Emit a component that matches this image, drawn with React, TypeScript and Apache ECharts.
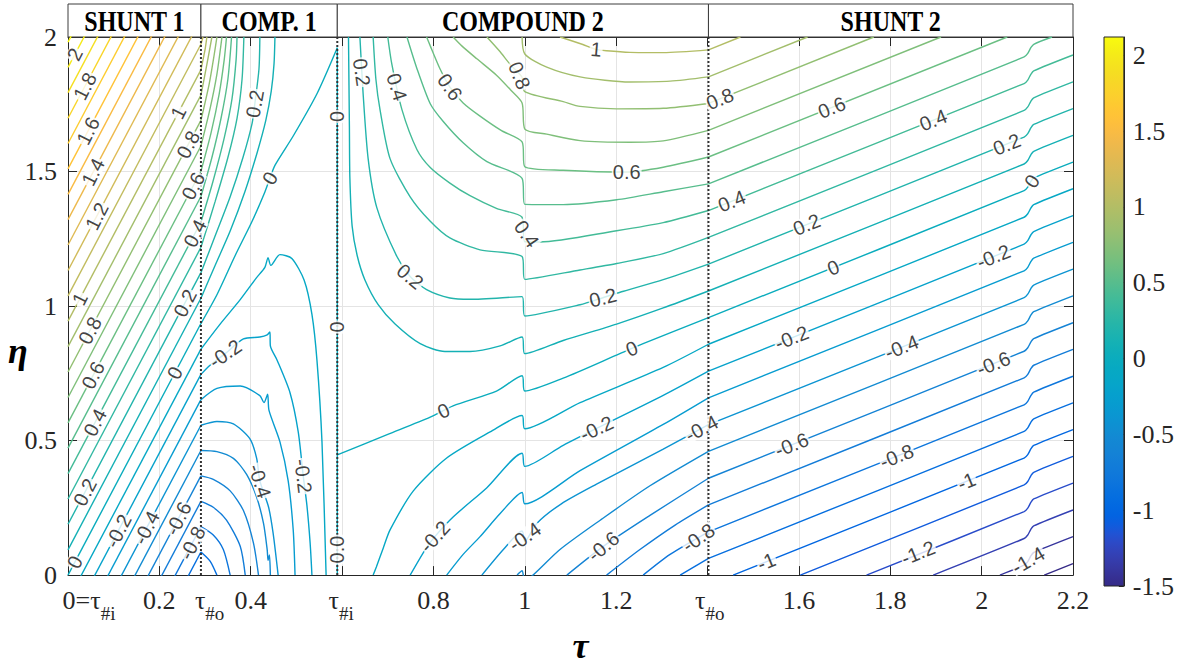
import React, { useEffect, useRef } from 'react';
import * as echarts from 'echarts';

// ---------- colour scale (MATLAB parula, 64 entries) ----------
const C_MIN = -1.5;
const C_MAX = 2.12;
const PARULA: number[][] = [
  [0.2081, 0.1663, 0.5292], [0.2116, 0.1898, 0.5777], [0.2123, 0.2138, 0.627], [0.2081, 0.2386, 0.6771],
  [0.1959, 0.2645, 0.7279], [0.1707, 0.2919, 0.7792], [0.1253, 0.3242, 0.8303], [0.0591, 0.3598, 0.8683],
  [0.0117, 0.3875, 0.882], [0.006, 0.4086, 0.8828], [0.0165, 0.4266, 0.8786], [0.0329, 0.443, 0.872],
  [0.0498, 0.4586, 0.8641], [0.0629, 0.4737, 0.8554], [0.0723, 0.4887, 0.8467], [0.0779, 0.504, 0.8384],
  [0.0793, 0.52, 0.8312], [0.0749, 0.5375, 0.8263], [0.0641, 0.557, 0.824], [0.0488, 0.5772, 0.8228],
  [0.0343, 0.5966, 0.8199], [0.0265, 0.6137, 0.8135], [0.0239, 0.6287, 0.8038], [0.0231, 0.6418, 0.7913],
  [0.0228, 0.6535, 0.7768], [0.0267, 0.6642, 0.7607], [0.0384, 0.6743, 0.7436], [0.059, 0.6838, 0.7254],
  [0.0843, 0.6928, 0.7062], [0.1133, 0.7015, 0.6859], [0.1453, 0.7098, 0.6646], [0.1801, 0.7177, 0.6424],
  [0.2178, 0.725, 0.6193], [0.2586, 0.7317, 0.5954], [0.3022, 0.7376, 0.5712], [0.3482, 0.7424, 0.5473],
  [0.3953, 0.7459, 0.5244], [0.442, 0.7481, 0.5033], [0.4871, 0.7491, 0.484], [0.53, 0.7491, 0.4661],
  [0.5709, 0.7485, 0.4494], [0.6099, 0.7473, 0.4337], [0.6473, 0.7456, 0.4188], [0.6834, 0.7435, 0.4044],
  [0.7184, 0.7411, 0.3905], [0.7525, 0.7384, 0.3768], [0.7858, 0.7356, 0.3633], [0.8185, 0.7327, 0.3498],
  [0.8507, 0.7299, 0.336], [0.8824, 0.7274, 0.3217], [0.9139, 0.7258, 0.3063], [0.945, 0.7261, 0.2886],
  [0.9739, 0.7314, 0.2666], [0.9938, 0.7455, 0.2403], [0.999, 0.7653, 0.2164], [0.9955, 0.7861, 0.1967],
  [0.988, 0.8066, 0.1794], [0.9789, 0.8271, 0.1633], [0.9697, 0.8481, 0.1475], [0.9626, 0.8705, 0.1309],
  [0.9589, 0.8949, 0.1132], [0.9598, 0.9218, 0.0948], [0.9661, 0.9514, 0.0755], [0.9763, 0.9831, 0.0538],
];
const colorbarTicks = [-1.5, -1, -0.5, 0, 0.5, 1, 1.5, 2];

// ---------- region boundaries ----------
const boundaryTaus = [0.291, 0.5895, 1.402];
const regionNames = ['SHUNT 1', 'COMP. 1', 'COMPOUND 2', 'SHUNT 2'];
const regionStarts = [0, 0.291, 0.5895, 1.402];
const regionEnds = [0.291, 0.5895, 1.402, 2.2];

// ---------- x tick labels ----------
const xLabelValues = [0.046, 0.2, 0.31, 0.4, 0.598, 0.8, 1, 1.2, 1.405, 1.6, 1.8, 2, 2.2];
const xLabelTexts = [
  '{n|0=τ}{s|#i}', '{n|0.2}', '{n|τ}{s|#o}', '{n|0.4}', '{n|τ}{s|#i}', '{n|0.8}', '{n|1}',
  '{n|1.2}', '{n|τ}{s|#o}', '{n|1.6}', '{n|1.8}', '{n|2}', '{n|2.2}',
];

type Line = [number, number[][]];

// ---------- contour lines: [level, [[tau, eta], ...]] ----------
const shunt1Lines: Line[] = [
  [2.1, [[0, 1.981], [0.291, 2.916]]],
  [2.0, [[0, 1.887], [0.291, 2.822]]],
  [1.9, [[0, 1.793], [0.291, 2.728]]],
  [1.8, [[0, 1.698], [0.291, 2.633]]],
  [1.7, [[0, 1.604], [0.291, 2.539]]],
  [1.6, [[0, 1.51], [0.291, 2.444]]],
  [1.5, [[0, 1.415], [0.291, 2.35]]],
  [1.4, [[0, 1.321], [0.291, 2.256]]],
  [1.3, [[0, 1.227], [0.291, 2.161]]],
  [1.2, [[0, 1.132], [0.291, 2.067]]],
  [1.1, [[0, 1.038], [0.291, 1.973]]],
  [1.0, [[0, 0.944], [0.291, 1.878]]],
  [0.9, [[0, 0.849], [0.291, 1.784]]],
  [0.8, [[0, 0.755], [0.291, 1.69]]],
  [0.7, [[0, 0.66], [0.291, 1.595]]],
  [0.6, [[0, 0.566], [0.291, 1.501]]],
  [0.5, [[0, 0.472], [0.291, 1.407]]],
  [0.4, [[0, 0.377], [0.291, 1.312]]],
  [0.3, [[0, 0.283], [0.291, 1.218]]],
  [0.2, [[0, 0.189], [0.291, 1.124]]],
  [0.1, [[0, 0.094], [0.291, 1.029]]],
  [0, [[0, 0], [0.291, 0.935]]],
  [-0.1, [[0, -0.094], [0.291, 0.84]]],
  [-0.2, [[0, -0.189], [0.291, 0.746]]],
  [-0.3, [[0, -0.283], [0.291, 0.652]]],
  [-0.4, [[0, -0.377], [0.291, 0.557]]],
  [-0.5, [[0, -0.472], [0.291, 0.463]]],
  [-0.6, [[0, -0.566], [0.291, 0.369]]],
  [-0.7, [[0, -0.66], [0.291, 0.274]]],
  [-0.8, [[0, -0.755], [0.291, 0.18]]],
  [-0.9, [[0, -0.849], [0.291, 0.086]]],
];

const comp1Lines: Line[] = [
  [1.1, [[0.291, 1.973], [0.2955, 2.0]]],
  [1.0, [[0.291, 1.878], [0.3, 1.953], [0.304, 2.0]]],
  [0.9, [[0.291, 1.784], [0.304, 1.898], [0.315, 2.0]]],
  [0.8, [[0.291, 1.69], [0.309, 1.825], [0.32, 1.934], [0.326, 2.0]]],
  [0.7, [[0.291, 1.595], [0.311, 1.734], [0.326, 1.862], [0.337, 2.0]]],
  [0.6, [[0.291, 1.501], [0.313, 1.643], [0.331, 1.789], [0.342, 1.916], [0.347, 2.0]]],
  [0.5, [[0.291, 1.407], [0.315, 1.552], [0.335, 1.698], [0.35, 1.843], [0.358, 2.0]]],
  [0.4, [[0.291, 1.312], [0.317, 1.461], [0.342, 1.625], [0.359, 1.77], [0.368, 1.916], [0.37, 2.0]]],
  [0.3, [[0.291, 1.218], [0.322, 1.388], [0.35, 1.552], [0.37, 1.698], [0.381, 1.843], [0.385, 2.0]]],
  [0.2, [[0.291, 1.124], [0.322, 1.26], [0.355, 1.406], [0.383, 1.552], [0.403, 1.679], [0.409, 1.752], [0.418, 1.88], [0.42, 2.0]]],
  [0.1, [[0.291, 1.029], [0.322, 1.151], [0.355, 1.279], [0.387, 1.424], [0.414, 1.57], [0.433, 1.69], [0.445, 1.8], [0.451, 1.9], [0.453, 2.0]]],
  [0, [[0.291, 0.935], [0.326, 1.042], [0.366, 1.188], [0.403, 1.315], [0.431, 1.424], [0.442, 1.475], [0.453, 1.523], [0.493, 1.632], [0.545, 1.789], [0.5895, 1.96]]],
  [-0.1, [[0.291, 0.84], [0.333, 0.933], [0.377, 1.024], [0.412, 1.104], [0.431, 1.144], [0.438, 1.18], [0.444, 1.151], [0.464, 1.191], [0.49, 1.177], [0.517, 1.096], [0.534, 0.969], [0.545, 0.798], [0.556, 0.495], [0.565, 0]]],
  [-0.2, [[0.291, 0.746], [0.311, 0.78], [0.344, 0.823], [0.384, 0.878], [0.42, 0.885], [0.436, 0.893], [0.442, 0.904], [0.443, 0.852], [0.458, 0.798], [0.486, 0.678], [0.504, 0.532], [0.515, 0.368], [0.523, 0.259], [0.53, 0.12], [0.534, 0]]],
  [-0.3, [[0.291, 0.652], [0.326, 0.694], [0.377, 0.703], [0.42, 0.667], [0.429, 0.641], [0.437, 0.672], [0.44, 0.612], [0.464, 0.495], [0.482, 0.35], [0.493, 0.168], [0.497, 0]]],
  [-0.4, [[0.291, 0.557], [0.326, 0.571], [0.362, 0.562], [0.398, 0.507], [0.413, 0.434], [0.42, 0.35], [0.439, 0.253], [0.449, 0.156], [0.46, 0]]],
  [-0.5, [[0.291, 0.463], [0.326, 0.459], [0.362, 0.434], [0.391, 0.374], [0.413, 0.289], [0.428, 0.192], [0.436, 0.095], [0.438, 0.055], [0.441, 0.075], [0.443, 0]]],
  [-0.6, [[0.291, 0.369], [0.318, 0.356], [0.355, 0.313], [0.384, 0.24], [0.406, 0.119], [0.417, 0]]],
  [-0.7, [[0.291, 0.274], [0.318, 0.252], [0.347, 0.204], [0.377, 0.107], [0.388, 0]]],
  [-0.8, [[0.291, 0.18], [0.318, 0.149], [0.34, 0.095], [0.355, 0]]],
  [-0.9, [[0.291, 0.086], [0.311, 0.052], [0.326, 0]]],
];

const tauIZeroLines: Line[] = [[0, [[0.5895, 0], [0.5895, 1.96]]]];

const compound2Lines: Line[] = [
  [1.0, [[1.077, 2.0], [1.127, 1.972], [1.156, 1.954], [1.179, 1.949], [1.23, 1.943], [1.303, 1.942], [1.402, 1.952]]],
  [0.9, [[0.994, 2.0], [1.0, 1.937], [1.048, 1.888], [1.121, 1.852], [1.23, 1.833], [1.318, 1.836], [1.402, 1.852]]],
  [0.8, [[0.917, 2.0], [0.946, 1.945], [0.968, 1.898], [0.99, 1.86], [0.994, 1.85], [1.0, 1.797], [1.084, 1.76], [1.121, 1.742], [1.201, 1.733], [1.303, 1.735], [1.402, 1.753]]],
  [0.7, [[0.843, 2.0], [0.862, 1.967], [0.895, 1.919], [0.938, 1.858], [0.968, 1.805], [0.994, 1.755], [1.0, 1.658], [1.048, 1.639], [1.121, 1.615], [1.23, 1.609], [1.303, 1.614], [1.402, 1.653]]],
  [0.6, [[0.785, 2.0], [0.793, 1.967], [0.814, 1.883], [0.836, 1.814], [0.865, 1.755], [0.902, 1.706], [0.949, 1.652], [0.994, 1.61], [1.0, 1.518], [1.084, 1.505], [1.223, 1.498], [1.303, 1.516], [1.402, 1.554]]],
  [0.5, [[0.742, 2.0], [0.763, 1.887], [0.793, 1.752], [0.821, 1.687], [0.865, 1.607], [0.917, 1.537], [0.994, 1.475], [1.0, 1.378], [1.084, 1.377], [1.201, 1.395], [1.303, 1.425], [1.402, 1.454]]],
  [0.4, [[0.7, 2.0], [0.709, 1.898], [0.731, 1.73], [0.764, 1.581], [0.793, 1.515], [0.836, 1.457], [0.88, 1.41], [0.939, 1.362], [0.994, 1.33], [1.0, 1.239], [1.033, 1.238], [1.201, 1.28], [1.303, 1.31], [1.402, 1.355]]],
  [0.3, [[0.668, 2.0], [0.674, 1.843], [0.683, 1.73], [0.705, 1.548], [0.749, 1.406], [0.793, 1.315], [0.836, 1.253], [0.902, 1.209], [0.994, 1.184], [1.0, 1.099], [1.121, 1.134], [1.201, 1.158], [1.303, 1.195], [1.402, 1.255]]],
  [0.2, [[0.639, 2.0], [0.646, 1.79], [0.657, 1.548], [0.676, 1.366], [0.72, 1.184], [0.749, 1.11], [0.785, 1.061], [0.836, 1.03], [0.88, 1.025], [0.994, 1.035], [1.0, 0.963], [1.121, 1.005], [1.171, 1.031], [1.216, 1.055], [1.303, 1.098], [1.402, 1.156]]],
  [0.1, [[0.614, 2.0], [0.616, 1.668], [0.617, 1.479], [0.622, 1.297], [0.633, 1.188], [0.65, 1.097], [0.679, 1.005], [0.716, 0.933], [0.771, 0.86], [0.825, 0.831], [0.88, 0.831], [0.946, 0.852], [0.994, 0.885], [1.0, 0.823], [1.084, 0.872], [1.201, 0.933], [1.303, 0.993], [1.402, 1.056]]],
  [0, [[0.5895, 0.447], [0.7, 0.523], [0.793, 0.587], [0.843, 0.629], [0.938, 0.684], [0.994, 0.741], [1.0, 0.684], [1.084, 0.732], [1.208, 0.823], [1.259, 0.86], [1.402, 0.957]]],
  [-0.1, [[0.668, 0], [0.675, 0.03], [0.69, 0.1], [0.705, 0.168], [0.756, 0.313], [0.829, 0.435], [0.924, 0.532], [0.994, 0.593], [1.0, 0.544], [1.121, 0.641], [1.303, 0.772], [1.402, 0.858]]],
  [-0.2, [[0.749, 0], [0.782, 0.095], [0.803, 0.143], [0.843, 0.216], [0.917, 0.325], [0.994, 0.453], [1.0, 0.404], [1.084, 0.482], [1.157, 0.545], [1.303, 0.668], [1.402, 0.758]]],
  [-0.3, [[0.829, 0], [0.865, 0.077], [0.902, 0.143], [0.946, 0.229], [0.994, 0.307], [1.0, 0.265], [1.121, 0.388], [1.303, 0.56], [1.402, 0.659]]],
  [-0.4, [[0.906, 0], [0.953, 0.095], [0.994, 0.164], [1.0, 0.125], [1.026, 0.192], [1.08, 0.265], [1.157, 0.338], [1.303, 0.468], [1.402, 0.559]]],
  [-0.5, [[0.983, 0], [0.994, 0.016], [1.0, -0.02], [1.018, 0], [1.077, 0.095], [1.165, 0.204], [1.274, 0.332], [1.402, 0.46]]],
  [-0.6, [[1.092, 0], [1.171, 0.106], [1.274, 0.222], [1.402, 0.36]]],
  [-0.7, [[1.179, 0], [1.252, 0.095], [1.329, 0.186], [1.402, 0.261]]],
  [-0.8, [[1.259, 0], [1.318, 0.077], [1.402, 0.161]]],
  [-0.9, [[1.34, 0], [1.402, 0.062]]],
];

const shunt2Lines: Line[] = [
  [1.0, [[1.402, 1.952], [1.472, 2.0]]],
  [0.9, [[1.402, 1.852], [1.619, 2.0]]],
  [0.8, [[1.402, 1.753], [1.764, 2.0]]],
  [0.7, [[1.402, 1.653], [1.911, 2.0]]],
  [0.6, [[1.402, 1.554], [2.056, 2.0]]],
  [0.5, [[1.402, 1.454], [2.093, 1.926], [2.101, 1.939], [2.108, 1.961], [2.114, 1.973], [2.154, 2.0]]],
  [0.4, [[1.402, 1.355], [2.093, 1.827], [2.101, 1.84], [2.108, 1.862], [2.114, 1.874], [2.2, 1.933]]],
  [0.3, [[1.402, 1.255], [2.093, 1.727], [2.101, 1.74], [2.108, 1.762], [2.114, 1.774], [2.2, 1.833]]],
  [0.2, [[1.402, 1.156], [2.093, 1.628], [2.101, 1.641], [2.108, 1.663], [2.114, 1.675], [2.2, 1.734]]],
  [0.1, [[1.402, 1.056], [2.093, 1.528], [2.101, 1.541], [2.108, 1.563], [2.114, 1.575], [2.2, 1.634]]],
  [0, [[1.402, 0.957], [2.093, 1.429], [2.101, 1.442], [2.108, 1.464], [2.114, 1.476], [2.2, 1.535]]],
  [-0.1, [[1.402, 0.858], [2.093, 1.33], [2.101, 1.343], [2.108, 1.365], [2.114, 1.377], [2.2, 1.436]]],
  [-0.2, [[1.402, 0.758], [2.093, 1.23], [2.101, 1.243], [2.108, 1.265], [2.114, 1.277], [2.2, 1.336]]],
  [-0.3, [[1.402, 0.659], [2.093, 1.131], [2.101, 1.144], [2.108, 1.166], [2.114, 1.178], [2.2, 1.237]]],
  [-0.4, [[1.402, 0.559], [2.093, 1.031], [2.101, 1.044], [2.108, 1.066], [2.114, 1.078], [2.2, 1.137]]],
  [-0.5, [[1.402, 0.46], [2.093, 0.932], [2.101, 0.945], [2.108, 0.967], [2.114, 0.979], [2.2, 1.038]]],
  [-0.6, [[1.402, 0.36], [2.093, 0.832], [2.101, 0.845], [2.108, 0.867], [2.114, 0.879], [2.2, 0.938]]],
  [-0.7, [[1.402, 0.261], [2.093, 0.733], [2.101, 0.746], [2.108, 0.768], [2.114, 0.78], [2.2, 0.839]]],
  [-0.8, [[1.402, 0.161], [2.093, 0.633], [2.101, 0.646], [2.108, 0.668], [2.114, 0.68], [2.2, 0.739]]],
  [-0.9, [[1.402, 0.062], [2.093, 0.534], [2.101, 0.547], [2.108, 0.569], [2.114, 0.581], [2.2, 0.64]]],
  [-1.0, [[1.456, 0], [2.093, 0.435], [2.101, 0.448], [2.108, 0.47], [2.114, 0.482], [2.2, 0.541]]],
  [-1.1, [[1.603, 0], [2.093, 0.335], [2.101, 0.348], [2.108, 0.37], [2.114, 0.382], [2.2, 0.441]]],
  [-1.2, [[1.748, 0], [2.093, 0.236], [2.101, 0.249], [2.108, 0.271], [2.114, 0.283], [2.2, 0.342]]],
  [-1.3, [[1.894, 0], [2.093, 0.136], [2.101, 0.149], [2.108, 0.171], [2.114, 0.183], [2.2, 0.242]]],
  [-1.4, [[2.04, 0], [2.093, 0.037], [2.101, 0.05], [2.108, 0.072], [2.114, 0.084], [2.2, 0.143]]],
  [-1.5, [[2.137, 0], [2.2, 0.043]]],
];

// ---------- contour labels: [tau, eta, text, rotation] ----------
const contourLabels: [number, number, string, number][] = [
  // SHUNT 1
  [0.015, 1.935, '2', 63], [0.037, 1.817, '1.8', 63], [0.044, 1.651, '1.6', 63], [0.055, 1.498, '1.4', 63],
  [0.063, 1.334, '1.2', 63], [0.026, 1.027, '1', 63], [0.2415, 1.719, '1', 63], [0.263, 1.6, '0.8', 63],
  [0.274, 1.446, '0.6', 63], [0.278, 1.27, '0.4', 63], [0.256, 1.011, '0.2', 63], [0.048, 0.909, '0.8', 63],
  [0.055, 0.743, '0.6', 63], [0.059, 0.567, '0.4', 63], [0.037, 0.308, '0.2', 63], [0.015, 0.048, '0', 63],
  [0.234, 0.752, '0', 63], [0.11, 0.164, '-0.2', 63], [0.172, 0.176, '-0.4', 63], [0.2415, 0.21, '-0.6', 63],
  [0.272, 0.119, '-0.8', 63],
  // COMP. 1
  [0.409, 1.752, '0.2', 80], [0.442, 1.475, '0', 60], [0.344, 0.823, '-0.2', 35], [0.42, 0.35, '-0.4', -72],
  [0.515, 0.368, '-0.2', -83],
  // along tau_#i
  [0.5895, 1.705, '0', 90], [0.5895, 0.922, '0', 90], [0.5895, 0.095, '0.0', 90],
  // COMPOUND 2
  [0.643, 1.869, '0.2', -82], [0.72, 1.814, '0.4', -72], [0.836, 1.814, '0.6', -55], [0.988, 1.857, '0.8', -68],
  [0.749, 1.11, '0.2', -40], [1.004, 1.268, '0.4', -55], [0.822, 0.611, '0', 25], [0.803, 0.143, '-0.2', 48],
  [1.0, 0.143, '-0.4', 35], [1.156, 1.954, '1', -5], [1.223, 1.498, '0.6', 0], [1.171, 1.031, '0.2', 14],
  [1.234, 0.842, '0', 22], [1.157, 0.545, '-0.2', 25], [1.387, 0.545, '-0.4', 28], [1.172, 0.107, '-0.6', 40],
  [1.38, 0.139, '-0.8', 35],
  // SHUNT 2
  [1.427, 1.77, '0.8', 22], [1.672, 1.738, '0.6', 22], [1.894, 1.691, '0.4', 22], [2.055, 1.601, '0.2', 22],
  [2.11, 1.464, '0', 55], [1.453, 1.39, '0.4', 22], [1.617, 1.303, '0.2', 22], [1.675, 1.143, '0', 22],
  [2.026, 1.184, '-0.2', 22], [1.584, 0.882, '-0.2', 22], [1.825, 0.848, '-0.4', 22], [2.026, 0.786, '-0.6', 22],
  [1.584, 0.484, '-0.6', 22], [1.814, 0.442, '-0.8', 22], [1.967, 0.348, '-1', 22], [1.529, 0.05, '-1', 22],
  [1.861, 0.083, '-1.2', 22], [2.102, 0.055, '-1.4', 30],
];

// ---------- helpers ----------
function toHex(c: number[]): string {
  return '#' + c.map((v) => Math.round(v * 255).toString(16).padStart(2, '0')).join('');
}
function levelColor(level: number): string {
  let t = (level - C_MIN) / (C_MAX - C_MIN);
  t = Math.max(0, Math.min(1, t));
  const p = t * (PARULA.length - 1);
  const i = Math.min(Math.floor(p), PARULA.length - 2);
  const f = p - i;
  const a = PARULA[i];
  const b = PARULA[i + 1];
  return toHex(a.map((v, k) => v + (b[k] - v) * f));
}
function fmtX(v: number): string {
  let best = 0;
  let bd = Infinity;
  xLabelValues.forEach((x, i) => {
    const d = Math.abs(x - v);
    if (d < bd) { bd = d; best = i; }
  });
  return xLabelTexts[best];
}

const SERIF = 'Liberation Serif';
const AX = '#262626';

function buildOption(): any {
  const allLines = [...shunt1Lines, ...comp1Lines, ...tauIZeroLines, ...compound2Lines, ...shunt2Lines];
  const lineSeries = allLines.map(([lvl, pts]) => ({
    type: 'line',
    xAxisIndex: 0,
    yAxisIndex: 0,
    data: pts,
    symbol: 'none',
    showSymbol: false,
    smooth: 0.25,
    clip: true,
    silent: true,
    z: 2,
    lineStyle: { color: levelColor(lvl), width: 1.4 },
  }));

  const boundarySeries = boundaryTaus.map((t) => ({
    type: 'line',
    xAxisIndex: 0,
    yAxisIndex: 0,
    data: [[t, 0], [t, 2]],
    symbol: 'none',
    silent: true,
    z: 3,
    lineStyle: { color: '#333', width: 2, type: 'dotted' },
  }));

  const labelSeries = {
    type: 'scatter',
    xAxisIndex: 0,
    yAxisIndex: 0,
    symbolSize: 1,
    silent: true,
    z: 5,
    itemStyle: { color: 'rgba(0,0,0,0)' },
    label: {
      show: true,
      position: 'inside',
      fontSize: 20,
      fontFamily: 'Liberation Sans',
      color: '#111',
      backgroundColor: '#fff',
      padding: [0, 1],
      lineHeight: 16,
    },
    data: contourLabels.map(([x, y, t, r]) => ({ value: [x, y], label: { formatter: t, rotate: r } })),
  };

  const stops = PARULA.map((c, i) => ({ offset: i / (PARULA.length - 1), color: toHex(c) }));
  const colorbarSeries = {
    type: 'custom',
    xAxisIndex: 2,
    yAxisIndex: 2,
    silent: true,
    data: [[0, C_MIN, 1, C_MAX]],
    renderItem: (_params: any, api: any) => {
      const p0 = api.coord([0, C_MIN]);
      const p1 = api.coord([1, C_MAX]);
      return {
        type: 'rect',
        shape: { x: p0[0], y: p1[1], width: p1[0] - p0[0], height: p0[1] - p1[1] },
        style: { fill: new echarts.graphic.LinearGradient(0, 1, 0, 0, stops), stroke: AX, lineWidth: 1 },
      };
    },
  };

  const headerSeries = {
    type: 'custom',
    xAxisIndex: 3,
    yAxisIndex: 3,
    silent: true,
    data: regionStarts.map((s, i) => [s, 0, regionEnds[i], 1]),
    renderItem: (params: any, api: any) => {
      const i = params.dataIndex;
      const a = api.coord([regionStarts[i], 1]);
      const b = api.coord([regionEnds[i], 0]);
      return {
        type: 'group',
        children: [
          {
            type: 'rect',
            shape: { x: a[0], y: a[1], width: b[0] - a[0], height: b[1] - a[1] },
            style: { fill: '#fff', stroke: '#3c3c3c', lineWidth: 1 },
          },
          {
            type: 'text',
            x: (a[0] + b[0]) / 2,
            y: (a[1] + b[1]) / 2 + 1,
            scaleY: 1.25,
            style: {
              text: regionNames[i],
              x: 0,
              y: 0,
              align: 'center',
              verticalAlign: 'middle',
              fontSize: 24,
              fontWeight: 'bold',
              fontFamily: SERIF,
              fill: '#000',
            },
          },
        ],
      };
    },
  };

  return {
    animation: false,
    backgroundColor: '#fff',
    grid: [
      { left: 68, top: 37, width: 1005, height: 549, show: false },
      { left: 1104, top: 37, width: 20, height: 549, show: false },
      { left: 68, top: 4, width: 1005, height: 33, show: false },
    ],
    graphic: [
      {
        type: 'text',
        left: 8,
        top: 333,
        style: {
          text: 'η',
          fontFamily: SERIF,
          fontStyle: 'italic',
          fontWeight: 'bold',
          fontSize: 36,
          fill: '#000',
        },
      },
    ],
    xAxis: [
      {
        gridIndex: 0, type: 'value', min: 0, max: 2.2, interval: 0.2, position: 'bottom',
        axisLine: { show: true, onZero: false, lineStyle: { color: AX, width: 1 } },
        axisTick: { show: true, inside: true, length: 9, lineStyle: { color: AX } },
        splitLine: { show: true, lineStyle: { color: '#e4e4e4', width: 1 } },
        axisLabel: {
          customValues: xLabelValues,
          formatter: fmtX,
          margin: 12,
          rich: {
            n: { fontSize: 26, fontFamily: SERIF, color: AX, verticalAlign: 'top', lineHeight: 28 },
            s: { fontSize: 19, fontFamily: SERIF, color: AX, verticalAlign: 'top', lineHeight: 28, padding: [17, 0, 0, 0] },
          },
        },
        name: 'τ',
        nameLocation: 'middle',
        nameGap: 42,
        nameTextStyle: { fontFamily: SERIF, fontStyle: 'italic', fontWeight: 'bold', fontSize: 36, color: '#000', padding: [0, 0, 0, 20] },
      },
      {
        gridIndex: 0, type: 'value', min: 0, max: 2.2, interval: 0.2, position: 'top',
        axisLine: { show: true, onZero: false, lineStyle: { color: AX, width: 1 } },
        axisTick: { show: true, inside: true, length: 9, lineStyle: { color: AX } },
        axisLabel: { show: false },
        splitLine: { show: false },
      },
      { gridIndex: 1, type: 'value', min: 0, max: 1, show: false },
      { gridIndex: 2, type: 'value', min: 0, max: 2.2, show: false },
    ],
    yAxis: [
      {
        gridIndex: 0, type: 'value', min: 0, max: 2, interval: 0.5, position: 'left',
        axisLine: { show: true, onZero: false, lineStyle: { color: AX, width: 1 } },
        axisTick: { show: true, inside: true, length: 9, lineStyle: { color: AX } },
        splitLine: { show: true, lineStyle: { color: '#e4e4e4', width: 1 } },
        axisLabel: { fontSize: 26, fontFamily: SERIF, color: AX, margin: 11 },
      },
      {
        gridIndex: 0, type: 'value', min: 0, max: 2, interval: 0.5, position: 'right',
        axisLine: { show: true, onZero: false, lineStyle: { color: AX, width: 1 } },
        axisTick: { show: true, inside: true, length: 9, lineStyle: { color: AX } },
        axisLabel: { show: false },
        splitLine: { show: false },
      },
      {
        gridIndex: 1, type: 'value', min: C_MIN, max: C_MAX, interval: 0.5, position: 'right',
        axisLine: { show: true, onZero: false, lineStyle: { color: AX, width: 1 } },
        axisTick: { show: true, inside: true, length: 5, lineStyle: { color: AX } },
        axisLabel: {
          fontSize: 26, fontFamily: SERIF, color: AX, margin: 9, showMaxLabel: false,
          formatter: (v: number) => (colorbarTicks.some((t) => Math.abs(t - v) < 1e-6) ? String(v) : ''),
        },
        splitLine: { show: false },
      },
      { gridIndex: 2, type: 'value', min: 0, max: 1, show: false },
    ],
    series: [...lineSeries, ...boundarySeries, labelSeries, colorbarSeries, headerSeries],
  };
}

export default function App() {
  const ref = useRef<HTMLDivElement>(null);
  useEffect(() => {
    if (!ref.current) return;
    const chart = echarts.init(ref.current, null, { renderer: 'svg' });
    chart.setOption(buildOption());
    return () => chart.dispose();
  }, []);
  return (
    <div
      ref={ref}
      style={{ position: 'fixed', left: 0, top: 0, width: 1177, height: 669, background: '#fff' }}
    />
  );
}
